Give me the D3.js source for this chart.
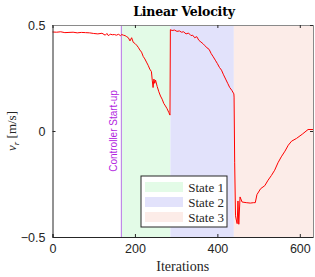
<!DOCTYPE html>
<html>
<head>
<meta charset="utf-8">
<script src="https://cdn.jsdelivr.net/npm/d3@7"></script>
<style>
body { margin: 0; background: #fff; }
</style>
</head>
<body>
<div id="chart"></div>
<script>
const w = 315, h = 277;
const margin = {top: 25, right: 2, bottom: 40, left: 52.5};

// iterations and linear velocity
const iters = [0, 10, 20, 30, 40, 50, 60, 70, 80, 90, 100, 110, 120, 128, 132, 136, 140, 145, 150, 155, 160, 165, 168,
    172, 176, 180, 184, 188, 192, 196, 200, 204, 208, 212, 216, 220, 224, 228, 232, 236, 240, 242, 244, 246, 248, 250, 254, 258, 262, 266, 270, 274, 278, 282, 285,
    286, 290, 296, 302, 308, 313, 318, 324, 330, 336, 340, 345, 350, 355, 360, 365, 370, 375, 380, 385, 390, 395, 400, 405, 410, 415, 420, 425, 430, 435, 440,
    440.5, 442, 444, 446, 448, 450, 452, 455, 460, 470, 480, 488, 492, 496, 505, 515, 523, 531, 539, 547, 555, 564, 572, 580, 592, 606, 620, 632];
const velocity = [0.467, 0.466, 0.468, 0.464, 0.465, 0.466, 0.463, 0.465, 0.464, 0.463, 0.460, 0.458, 0.461, 0.452, 0.460, 0.449, 0.457, 0.454, 0.455, 0.452, 0.456, 0.450, 0.455,
    0.452, 0.450, 0.445, 0.440, 0.425, 0.440, 0.418, 0.413, 0.405, 0.395, 0.382, 0.372, 0.352, 0.340, 0.325, 0.310, 0.292, 0.280, 0.240, 0.205, 0.245, 0.225, 0.240, 0.210, 0.185, 0.165, 0.150, 0.130, 0.118, 0.105, 0.088, 0.075,
    0.478, 0.474, 0.476, 0.470, 0.472, 0.466, 0.468, 0.458, 0.462, 0.450, 0.452, 0.440, 0.445, 0.428, 0.420, 0.412, 0.402, 0.392, 0.385, 0.365, 0.350, 0.334, 0.318, 0.300, 0.287, 0.265, 0.245, 0.225, 0.205, 0.192, 0.175, 0.160,
    -0.150, -0.400, -0.420, -0.437, -0.330, -0.440, -0.311, -0.335, -0.338, -0.340, -0.338, -0.338, -0.300, -0.272, -0.258, -0.232, -0.210, -0.185, -0.150, -0.122, -0.095, -0.067, -0.048, -0.035, -0.015, 0.007, 0.007, 0.007];

const states = ["State 1", "State 2", "State 3"];
const stateStart = [167, 286, 440];
const stateEnd = [286, 440, 632];
const stateColors = ["#e3fbe7", "#e2e2fb", "#fcece8"];
const startUp = 167;

const xTicks = [0, 200, 400, 600];
const yTicks = [-0.5, 0, 0.5];

const svg = d3.select("#chart")
    .append("svg")
    .attr("width", w)
    .attr("height", h)

const xScale = d3.scaleLinear()
    .domain([0, 632])
    .range([margin.left, w - margin.right]);

const yScale = d3.scaleLinear()
    .domain([-0.5, 0.5])
    .range([h - margin.bottom, margin.top]);

// state regions
svg.selectAll("rect.state")
    .data(states)
    .enter()
    .append("rect")
    .attr("class", "state")
    .attr("x", function (d, i) { return xScale(stateStart[i]) })
    .attr("width", function (d, i) { return xScale(stateEnd[i]) - xScale(stateStart[i]) })
    .attr("y", yScale(0.5))
    .attr("height", yScale(-0.5) - yScale(0.5))
    .style("fill", function (d, i) { return stateColors[i] });

// controller start-up line
svg.append("line")
    .attr("x1", xScale(startUp)).attr("x2", xScale(startUp))
    .attr("y1", yScale(0.5)).attr("y2", yScale(-0.5))
    .style("stroke", "#b772e6")
    .style("stroke-width", 1);

svg.append("text")
    .attr("transform", "translate(" + (xScale(startUp) - 4.5) + "," + yScale(0) + ") rotate(-90)")
    .attr("text-anchor", "middle")
    .style("font-family", "Liberation Sans, Arial, sans-serif")
    .style("font-size", "10px")
    .style("fill", "#b21fe0")
    .text("Controller Start-up");

// velocity line
const line = d3.line()
    .x(function (d, i) { return xScale(iters[i]) })
    .y(function (d) { return yScale(d) });

svg.append("path")
    .datum(velocity)
    .attr("d", line)
    .style("fill", "none")
    .style("stroke", "#ff0000")
    .style("stroke-width", 1);

// axes, MATLAB style ticks inside
const xAxis = d3.axisBottom(xScale).tickValues(xTicks).tickSize(-3).tickPadding(7).tickFormat(d3.format("d"));
const yAxis = d3.axisLeft(yScale).tickValues(yTicks).tickSize(-3).tickPadding(7).tickFormat(function (d) { return d === 0 ? "0" : d3.format(".1f")(d) });

const gx = svg.append("g")
    .attr("transform", "translate(0," + yScale(-0.5) + ")")
    .call(xAxis);
const gy = svg.append("g")
    .attr("transform", "translate(" + xScale(0) + ",0)")
    .call(yAxis);
const gTop = svg.append("g")
    .attr("transform", "translate(0," + yScale(0.5) + ")")
    .call(d3.axisTop(xScale).tickValues(xTicks).tickSize(-3).tickFormat(""));
const gRight = svg.append("g")
    .attr("transform", "translate(" + xScale(632) + ",0)")
    .call(d3.axisRight(yScale).tickValues(yTicks).tickSize(-3).tickFormat(""));

[gx, gy, gTop, gRight].forEach(function (g) {
    g.select(".domain").style("stroke", "#262626");
    g.selectAll(".tick line").style("stroke", "#262626");
    g.selectAll("text")
        .style("font-family", "Liberation Sans, Arial, sans-serif")
        .style("font-size", "12.5px")
        .style("fill", "#262626");
});
gTop.select(".domain").style("stroke", "#8a8a8a");
gRight.select(".domain").style("stroke", "#8a8a8a");

// title and axis labels
svg.append("text")
    .attr("x", 184).attr("y", 16)
    .attr("text-anchor", "middle")
    .style("font-family", "DejaVu Serif, serif")
    .style("font-weight", "bold")
    .style("font-size", "12.5px")
    .style("letter-spacing", "-0.2px")
    .text("Linear Velocity");

svg.append("text")
    .attr("x", (xScale(0) + xScale(632)) / 2).attr("y", 271)
    .attr("text-anchor", "middle")
    .style("font-family", "Liberation Serif, serif")
    .style("font-size", "14px")
    .style("fill", "#262626")
    .text("Iterations");

const ylab = svg.append("text")
    .attr("transform", "translate(16," + yScale(0) + ") rotate(-90)")
    .attr("text-anchor", "middle")
    .style("font-family", "Liberation Serif, serif")
    .style("font-size", "13px")
    .style("fill", "#262626");
ylab.append("tspan").style("font-style", "italic").text("ν");
ylab.append("tspan").attr("dy", 3).style("font-size", "9px").style("font-style", "italic").text("r");
ylab.append("tspan").attr("dy", -3).text(" [m/s]");

// legend
const legend = svg.append("g").attr("transform", "translate(141,176)");
legend.append("rect")
    .attr("width", 86).attr("height", 51)
    .style("fill", "#fff")
    .style("stroke", "#262626")
    .style("stroke-width", 1);
const items = legend.selectAll("g.item")
    .data(states)
    .enter()
    .append("g")
    .attr("class", "item")
    .attr("transform", function (d, i) { return "translate(0," + (11 + i * 15) + ")" });
items.append("rect")
    .attr("x", 4).attr("y", -5)
    .attr("width", 38).attr("height", 10)
    .style("fill", function (d, i) { return stateColors[i] });
items.append("text")
    .attr("x", 83).attr("y", 4.5)
    .attr("text-anchor", "end")
    .style("font-family", "Liberation Serif, serif")
    .style("font-size", "13px")
    .style("fill", "#262626")
    .text(function (d) { return d });
</script>
</body>
</html>
